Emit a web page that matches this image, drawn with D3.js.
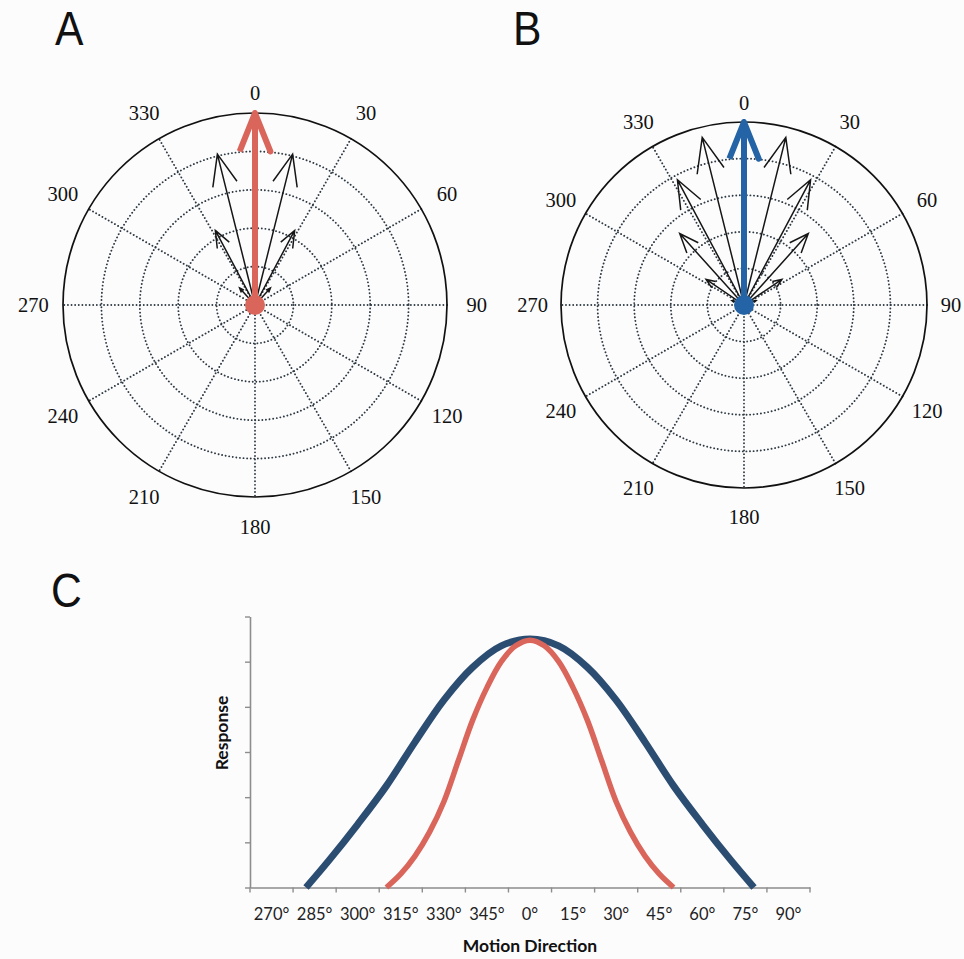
<!DOCTYPE html>
<html>
<head>
<meta charset="utf-8">
<script src="https://cdn.jsdelivr.net/npm/d3@7/dist/d3.min.js"></script>
<style>
  body { margin: 0; background: #fcfcfd; }
  svg { display: block; }
</style>
</head>
<body>
<svg id="fig" width="964" height="959"></svg>
<script>
// ---- polar grid ----
const polarLabelAngles = [0, 30, 60, 90, 120, 150, 180, 210, 240, 270, 300, 330];
const polarLabels = ["0", "30", "60", "90", "120", "150", "180", "210", "240", "270", "300", "330"];
const ringLevels = [0.2, 0.4, 0.6, 0.8];

// ---- panel A: narrow population (direction in degrees, normalised magnitude) ----
const aDirections = [-42, -28, -14, 14, 28, 42];
const aMagnitudes = [0.12, 0.44, 0.81, 0.81, 0.44, 0.12];
const aPreferred = 0;
const aPreferredMagnitude = 1.0;

// ---- panel B: broad population ----
const bDirections = [-70, -56, -42, -28, -14, 14, 28, 42, 56, 70];
const bMagnitudes = [0.07, 0.25, 0.525, 0.775, 0.944, 0.944, 0.775, 0.525, 0.25, 0.07];
const bPreferred = 0;
const bPreferredMagnitude = 1.0;

// ---- panel C: tuning curves ----
const directionLabels = ["270°", "285°", "300°", "315°", "330°", "345°", "0°", "15°", "30°", "45°", "60°", "75°", "90°"];
const directionCentres = [-90, -75, -60, -45, -30, -15, 0, 15, 30, 45, 60, 75, 90];
const responseTicks = [0, 0.2, 0.4, 0.6, 0.8, 1.0, 1.2];

const narrowAngles = [-50, -45, -40, -35, -30, -25, -20, -15, -10, -5, 0, 5, 10, 15, 20, 25, 30, 35, 40, 45, 50];
const narrowResponse = [0, 0.06, 0.14, 0.245, 0.38, 0.56, 0.74, 0.885, 1.0, 1.07, 1.095,
                        1.07, 1.0, 0.885, 0.74, 0.56, 0.38, 0.245, 0.14, 0.06, 0];

const broadAngles = [-78, -70, -60, -50, -40, -30, -20, -10, 0, 10, 20, 30, 40, 50, 60, 70, 78];
const broadResponse = [0, 0.12, 0.28, 0.45, 0.645, 0.83, 0.975, 1.07, 1.10,
                       1.07, 0.975, 0.83, 0.645, 0.45, 0.28, 0.12, 0];

const RED = "#d9655b";
const BLUE_ARROW = "#2363a6";
const BLUE_LINE = "#2c4d72";
const WIDTH = 964, HEIGHT = 959;

const svg = d3.select("#fig");
svg.append("rect").attr("width", WIDTH).attr("height", HEIGHT).attr("fill", "#fcfcfd");

function polarPanel(cx, cy, radius, dirs, mags, prefDir, prefMag, prefColor) {
  const g = svg.append("g").attr("transform", `translate(${cx},${cy})`);
  const rho = d3.scaleLinear().domain([0, 1]).range([0, radius]);
  const toXY = (deg, m) => {
    const t = deg * Math.PI / 180;
    return [rho(m) * Math.sin(t), -rho(m) * Math.cos(t)];
  };
  const dotted = sel => sel.attr("fill", "none").attr("stroke", "#2f3a43")
    .attr("stroke-width", 1.9).attr("stroke-linecap", "round")
    .attr("stroke-dasharray", "0.01 3.6");

  // dotted rings
  g.selectAll("circle.ring").data(ringLevels).join("circle")
    .attr("class", "ring").attr("r", d => rho(d)).call(dotted);
  // dotted spokes
  g.selectAll("line.spoke").data(polarLabelAngles.filter(a => a < 180)).join("line")
    .attr("class", "spoke")
    .attr("x1", d => toXY(d, 1)[0]).attr("y1", d => toXY(d, 1)[1])
    .attr("x2", d => toXY(d + 180, 1)[0]).attr("y2", d => toXY(d + 180, 1)[1])
    .call(dotted);
  // outer circle
  g.append("circle").attr("r", rho(1)).attr("fill", "none")
    .attr("stroke", "#111").attr("stroke-width", 1.7);
  // angle labels (the top label sits a little closer to the rim; kept inside the page)
  const labelPos = d => toXY(d, d === 0 ? 1.105 : 1.155);
  g.selectAll("text.lab").data(polarLabelAngles).join("text")
    .attr("class", "lab")
    .attr("x", d => Math.min(labelPos(d)[0], WIDTH - cx - 13))
    .attr("y", d => labelPos(d)[1])
    .attr("dy", "0.35em").attr("text-anchor", "middle")
    .attr("font-family", "'Liberation Serif', 'DejaVu Serif', serif")
    .attr("font-size", 20.5).attr("fill", "#111")
    .text((d, i) => polarLabels[i]);

  // compass-style arrow: shaft plus two barbs at 0.8 length, 0.08 half-width
  const arrowPath = (deg, m) => {
    const t = deg * Math.PI / 180;
    const L = rho(m);
    const u = [Math.sin(t), -Math.cos(t)], v = [Math.cos(t), Math.sin(t)];
    const pt = (a, p) => [L * (a * u[0] + p * v[0]), L * (a * u[1] + p * v[1])];
    const pts = [pt(0, 0), pt(1, 0), pt(0.8, 0.08), pt(1, 0), pt(0.8, -0.08)];
    return d3.line()(pts);
  };
  const arrows = dirs.map((d, i) => ({ dir: d, mag: mags[i] }));
  g.selectAll("path.vec").data(arrows).join("path")
    .attr("class", "vec").attr("d", d => arrowPath(d.dir, d.mag))
    .attr("fill", "none").attr("stroke", "#161616").attr("stroke-width", 1.5)
    .attr("stroke-linejoin", "miter");
  g.append("path").attr("d", arrowPath(prefDir, prefMag))
    .attr("fill", "none").attr("stroke", prefColor).attr("stroke-width", 6)
    .attr("stroke-linejoin", "round").attr("stroke-linecap", "butt");
  g.append("circle").attr("r", 10).attr("fill", prefColor);
}

polarPanel(255, 305, 192, aDirections, aMagnitudes, aPreferred, aPreferredMagnitude, RED);
polarPanel(744, 305, 183, bDirections, bMagnitudes, bPreferred, bPreferredMagnitude, BLUE_ARROW);

// panel letters
[["A", 55, 45], ["B", 513, 45], ["C", 51, 607]].forEach(([t, lx, ly]) => {
  svg.append("text").attr("transform", `translate(${lx},${ly}) scale(0.87,1)`)
    .attr("font-family", "'Liberation Sans', Arial, sans-serif")
    .attr("font-size", 49).attr("fill", "#111").text(t);
});

// ---- panel C ----
const plotLeft = 250, plotRight = 810, plotTop = 616.5, plotBottom = 887.5;
const xLin = d3.scaleLinear().domain([-97.5, 97.5]).range([plotLeft, plotRight]);
const xBand = d3.scaleBand().domain(directionLabels).range([plotLeft, plotRight]);
const yLin = d3.scaleLinear().domain([0, 1.2]).range([plotBottom, plotTop]);
const AXIS = "#8d8d8d";
const gc = svg.append("g");

const yAxis = gc.append("g").attr("transform", `translate(${plotLeft},0)`)
  .call(d3.axisLeft(yLin).tickValues(responseTicks).tickFormat("").tickSize(5).tickSizeOuter(0));
yAxis.select(".domain").attr("stroke", AXIS).attr("stroke-width", 1.6);
yAxis.selectAll(".tick line").attr("stroke", AXIS).attr("stroke-width", 1.4);

const xAxis = gc.append("g").attr("transform", `translate(0,${plotBottom})`)
  .call(d3.axisBottom(xBand).tickSize(0).tickPadding(21).tickSizeOuter(0));
xAxis.select(".domain").attr("stroke", AXIS).attr("stroke-width", 1.6);
xAxis.selectAll(".tick text").attr("font-family", "Lato, 'Open Sans', sans-serif")
  .attr("font-size", 16.5).attr("fill", "#222");
// tick marks between categories
const boundaries = d3.range(directionCentres.length + 1).map(i => -97.5 + 15 * i);
gc.selectAll("line.xt").data(boundaries).join("line").attr("class", "xt")
  .attr("x1", d => xLin(d)).attr("x2", d => xLin(d)).attr("y1", plotBottom).attr("y2", plotBottom + 5)
  .attr("stroke", AXIS).attr("stroke-width", 1.4);

const curve = d3.line().x(d => xLin(d[0])).y(d => yLin(d[1])).curve(d3.curveCatmullRom.alpha(0.5));
gc.append("path").datum(broadAngles.map((a, i) => [a, broadResponse[i]]))
  .attr("d", curve).attr("fill", "none").attr("stroke", BLUE_LINE).attr("stroke-width", 7);
gc.append("path").datum(narrowAngles.map((a, i) => [a, narrowResponse[i]]))
  .attr("d", curve).attr("fill", "none").attr("stroke", RED).attr("stroke-width", 5.5);

gc.append("text").attr("transform", "translate(228,733) rotate(-90)")
  .attr("text-anchor", "middle").attr("font-family", "Lato, 'Open Sans', sans-serif")
  .attr("font-weight", "bold").attr("font-size", 17.5).attr("fill", "#111").text("Response");
gc.append("text").attr("x", 530).attr("y", 952)
  .attr("text-anchor", "middle").attr("font-family", "Lato, 'Open Sans', sans-serif")
  .attr("font-weight", "bold").attr("font-size", 17.5).attr("fill", "#111").text("Motion Direction");
</script>
</body>
</html>
